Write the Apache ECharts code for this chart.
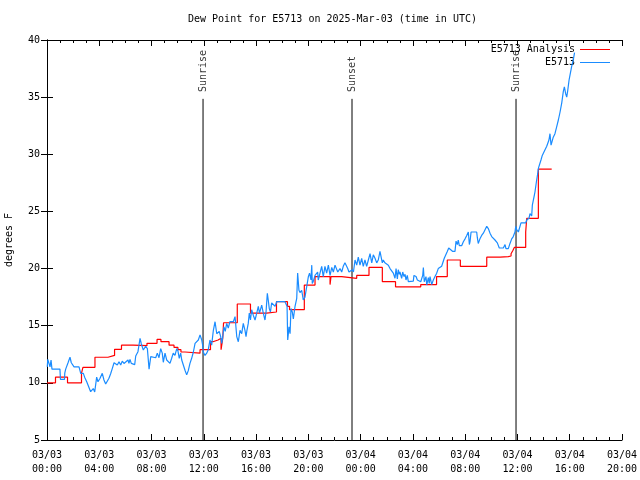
<!DOCTYPE html>
<html>
<head>
<meta charset="utf-8">
<script src="https://cdn.jsdelivr.net/npm/echarts@6/dist/echarts.min.js"></script>
<style>html,body{margin:0;padding:0;background:#fff}#c{width:640px;height:480px}</style>
</head>
<body>
<div id="c"></div>
<script>
// time in hours since 2025-03-03 00:00 UTC
const xTickLabels = ['03/03\n00:00','03/03\n04:00','03/03\n08:00','03/03\n12:00','03/03\n16:00','03/03\n20:00',
                     '03/04\n00:00','03/04\n04:00','03/04\n08:00','03/04\n12:00','03/04\n16:00','03/04\n20:00'];

const obsHours = [0.02,0.06,0.15,0.23,0.31,0.38,0.99,1.03,1.34,1.36,1.43,1.61,1.76,1.86,2.07,2.45,2.58,2.78,2.88,3.04,
  3.16,3.34,3.54,3.65,3.80,3.90,4.06,4.23,4.36,4.49,4.61,4.74,4.87,5.00,5.13,5.26,5.38,5.51,5.64,5.76,
  5.89,6.02,6.20,6.27,6.35,6.45,6.60,6.71,6.79,6.96,7.12,7.22,7.37,7.55,7.68,7.81,7.94,8.06,8.32,8.44,
  8.57,8.70,8.82,8.90,9.03,9.16,9.41,9.54,9.66,9.79,9.93,10.02,10.12,10.23,10.31,10.43,10.56,10.69,10.81,10.94,
  11.07,11.20,11.33,11.46,11.58,11.71,11.84,11.91,11.96,12.09,12.22,12.34,12.47,12.60,12.73,12.86,12.99,13.11,13.18,13.29,
  13.37,13.45,13.54,13.64,13.75,13.87,14.00,14.13,14.26,14.39,14.52,14.64,14.77,14.90,15.02,15.15,15.23,15.30,15.40,15.48,
  15.57,15.66,15.79,15.92,16.05,16.17,16.26,16.43,16.55,16.68,16.76,16.86,16.93,17.01,17.10,17.19,17.32,17.45,17.58,17.78,
  17.91,18.21,18.34,18.37,18.42,18.52,18.60,18.67,18.77,18.85,18.98,19.11,19.18,19.28,19.36,19.49,19.61,19.74,19.87,20.00,
  20.09,20.20,20.26,20.30,20.38,20.51,20.62,20.71,20.76,20.89,21.02,21.14,21.27,21.40,21.53,21.66,21.79,21.91,22.04,22.15,
  22.25,22.42,22.55,22.67,22.80,22.92,23.01,23.11,23.26,23.36,23.45,23.57,23.70,23.82,23.95,24.08,24.20,24.33,24.46,24.59,
  24.72,24.85,24.97,25.10,25.23,25.35,25.48,25.61,25.66,25.73,25.86,26.12,26.25,26.38,26.50,26.63,26.71,26.81,26.88,26.96,
  27.01,27.14,27.22,27.32,27.40,27.47,27.57,27.65,28.03,28.08,28.24,28.34,28.47,28.60,28.75,28.80,28.87,29.00,29.06,29.18,
  29.25,29.31,29.44,29.56,29.69,29.82,29.94,30.07,30.20,30.30,30.40,30.53,30.63,30.74,30.84,31.05,31.22,31.30,31.40,31.47,
  31.55,31.73,31.86,31.99,32.12,32.24,32.32,32.37,32.45,32.88,32.93,33.00,33.13,33.26,33.39,33.52,33.65,33.77,33.90,34.03,
  34.15,34.28,34.40,34.46,34.61,34.92,35.05,35.12,35.30,35.43,35.56,35.68,35.81,35.87,35.94,36.07,36.20,36.27,36.63,36.71,
  36.88,36.96,37.09,37.14,37.29,37.34,37.47,37.55,37.60,37.67,37.80,37.90,38.11,38.24,38.36,38.41,38.49,38.57,38.62,38.74,
  38.87,39.00,39.13,39.26,39.39,39.51,39.59,39.69,39.77,39.85,39.95,40.05,40.15,40.27,40.37];

const obsDewPoint = [11.4,12.06,11.9,11.4,12.0,11.2,11.2,10.3,10.3,10.85,11.2,11.76,12.24,11.76,11.4,11.4,10.83,10.83,10.5,10.1,
  10.0,9.23,9.5,9.2,10.5,10.1,10.4,10.83,10.25,9.9,9.9,10.4,10.8,11.27,11.76,11.7,11.56,11.85,11.56,11.9,
  11.7,11.8,12.0,11.7,12.05,11.7,11.8,11.6,12.35,12.73,13.9,13.4,12.87,13.2,13.0,11.2,12.3,12.2,12.2,12.6,
  12.2,13.0,12.6,11.8,12.6,12.0,11.7,12.15,12.6,12.4,13.0,12.8,12.15,12.6,12.0,11.9,11.1,10.7,11.07,11.7,
  12.15,12.7,13.46,13.3,13.75,14.2,13.75,13.3,12.7,12.4,12.6,12.9,13.75,13.3,14.6,15.35,14.3,14.2,14.5,14.05,
  13.46,14.05,14.9,14.5,15.2,14.8,15.35,15.2,15.35,15.8,14.05,13.6,14.6,14.3,15.2,14.6,14.05,14.6,15.2,16.1,
  15.5,16.4,15.9,15.5,16.1,16.7,16.1,16.8,16.1,15.5,16.2,17.83,17.25,16.5,16.2,17.0,17.1,16.7,17.1,17.1,
  17.1,17.1,17.0,16.7,13.75,14.9,14.3,16.5,16.2,15.6,16.7,17.4,19.6,18.1,17.9,18.1,17.25,17.5,18.4,19.3,
  19.6,19.0,20.3,18.7,18.9,19.4,19.4,19.7,19.0,19.6,20.2,19.3,20.2,19.6,20.3,19.4,20.1,19.7,20.3,20.3,
  19.7,20.0,19.7,20.2,20.5,20.4,20.0,19.7,19.7,19.9,19.7,20.75,20.3,21.0,20.3,20.9,20.2,20.75,20.2,20.75,
  21.3,20.5,21.2,20.9,20.5,20.75,21.5,21.5,20.5,20.75,20.5,20.3,20.0,20.1,19.6,19.15,20.0,19.1,19.9,19.5,
  19.7,19.15,19.7,19.3,19.5,19.0,19.4,18.85,18.9,19.4,19.3,19.0,19.1,18.85,19.4,20.1,18.85,19.3,18.56,19.2,
  18.7,19.3,18.6,19.0,19.3,19.6,20.0,20.1,20.2,20.2,20.9,21.0,21.5,21.8,21.8,21.5,21.5,22.4,22.1,22.5,
  22.0,22.0,22.35,22.6,22.9,23.2,22.1,22.35,23.2,23.2,22.7,22.2,22.6,22.9,23.1,23.4,23.7,23.5,23.1,22.8,
  22.7,22.5,22.6,22.25,21.8,21.8,22.1,21.75,21.75,22.2,22.6,22.8,23.2,23.7,23.4,23.2,23.2,24.0,24.0,24.25,
  24.4,24.8,24.6,25.56,26.4,26.7,27.75,28.3,28.77,28.8,29.5,29.9,30.4,30.7,30.75,31.25,31.8,30.8,31.0,31.5,
  31.8,32.4,33.0,33.7,34.5,35.5,35.9,35.3,35.0,35.6,36.5,37.1,37.7,38.25,38.9];

const anaHours = [0,0.65,1.57,2.64,2.75,3.67,4.67,5.17,5.70,6.58,7.65,8.42,8.72,9.34,9.72,10.02,10.25,10.56,11.71,12.51,
  12.70,13.09,13.32,13.45,13.51,14.56,15.57,16.80,17.56,18.40,18.56,19.69,20.51,21.66,21.73,22.55,23.70,24.64,25.66,26.67,
  28.60,29.81,30.63,31.63,32.62,32.75,33.65,34.67,35.30,35.51,35.66,35.76,36.63,36.71,37.60,38.62];
const anaDewPoint = [10.0,10.5,10.0,10.85,11.36,12.24,12.4,12.93,13.3,13.25,13.46,13.8,13.6,13.3,13.1,12.9,12.7,12.6,12.9,13.6,
  13.75,13.9,12.9,13.9,15.26,16.9,16.1,16.2,17.1,16.7,16.4,18.56,19.3,18.6,19.3,19.15,19.4,20.1,18.85,18.4,
  18.6,19.3,20.75,20.2,20.3,20.2,21.0,21.05,21.1,21.3,21.6,21.85,23.2,24.4,28.7,28.7];

const eventNames = ['Sunrise','Sunset','Sunrise'];
const eventHours = [11.94, 23.34, 35.89];
const eventLineTop = 34.85;
const eventLabelBase = 35.45;

const FONT = 'DejaVu Sans Mono';
const zip = (a, b) => a.map((v, i) => [v, b[i]]);

const axisCommon = {
  axisLine: { show: true, lineStyle: { color: '#000', width: 1 } },
  axisTick: { show: true, inside: true, length: 6, lineStyle: { color: '#000' } },
  splitLine: { show: false }
};

const eventSeries = eventHours.map((h, i) => ({
  type: 'line', name: 'ev' + i, silent: true, symbol: 'none', animation: false,
  data: [[h, 5], [h, eventLineTop]],
  lineStyle: { color: '#000', width: 1 }, z: 3
}));

const chart = echarts.init(document.getElementById('c'), null, { renderer: 'canvas' });
chart.setOption({
  animation: false,
  backgroundColor: '#fff',
  title: {
    text: 'Dew Point for E5713 on 2025-Mar-03 (time in UTC)',
    left: 183, top: 9,
    textStyle: { fontFamily: FONT, fontSize: 10, fontWeight: 'normal', color: '#000' }
  },
  legend: {
    orient: 'vertical', right: 25, top: 38, align: 'right',
    itemWidth: 30, itemHeight: 1, itemGap: 0, icon: 'rect',
    data: ['E5713 Analysis', 'E5713'],
    textStyle: { fontFamily: FONT, fontSize: 10, color: '#000', lineHeight: 13 }
  },
  grid: { left: 47, right: 18, top: 40, bottom: 40, outerBoundsMode: 'none', containLabel: false },
  xAxis: [
    Object.assign({}, axisCommon, {
      type: 'value', min: 0, max: 44, interval: 4, position: 'bottom',
      minorTick: { show: true, splitNumber: 4, length: 3, lineStyle: { color: '#000' } },
      axisLabel: { show: true, showMinLabel: true, showMaxLabel: true, margin: 8, color: '#000',
        fontFamily: FONT, fontSize: 10, lineHeight: 14,
        formatter: v => xTickLabels[Math.round(v / 4)] }
    }),
    Object.assign({}, axisCommon, {
      type: 'value', min: 0, max: 44, interval: 4, position: 'top',
      minorTick: { show: true, splitNumber: 4, length: 3, lineStyle: { color: '#000' } },
      axisLabel: { show: false }
    })
  ],
  yAxis: [
    Object.assign({}, axisCommon, {
      type: 'value', min: 5, max: 40, interval: 5, position: 'left',
      name: 'degrees F', nameLocation: 'middle', nameGap: 33, nameRotate: 90,
      nameTextStyle: { fontFamily: FONT, fontSize: 10, color: '#000' },
      axisLabel: { show: true, margin: 7, color: '#000', fontFamily: FONT, fontSize: 10 }
    }),
    Object.assign({}, axisCommon, {
      type: 'value', min: 5, max: 40, interval: 5, position: 'right',
      axisLabel: { show: false }
    })
  ],
  series: [
    {
      name: 'E5713 Analysis', type: 'line', step: 'end', symbol: 'none',
      data: zip(anaHours, anaDewPoint),
      lineStyle: { color: '#ff0000', width: 1.2 }, itemStyle: { color: '#ff0000' }, z: 4
    },
    {
      name: 'E5713', type: 'line', symbol: 'none',
      data: zip(obsHours, obsDewPoint),
      lineStyle: { color: '#1a8cff', width: 1.2 }, itemStyle: { color: '#1a8cff' }, z: 5
    },
    ...eventSeries,
    {
      type: 'scatter', name: 'evlabels', silent: true, symbolSize: 0,
      data: eventHours.map((h, i) => ({ value: [h, eventLabelBase], name: eventNames[i] })),
      label: {
        show: true, position: 'inside', rotate: 90, align: 'left', verticalAlign: 'middle',
        formatter: p => p.name, color: '#000', fontFamily: FONT, fontSize: 10
      }
    }
  ]
});
</script>
</body>
</html>
